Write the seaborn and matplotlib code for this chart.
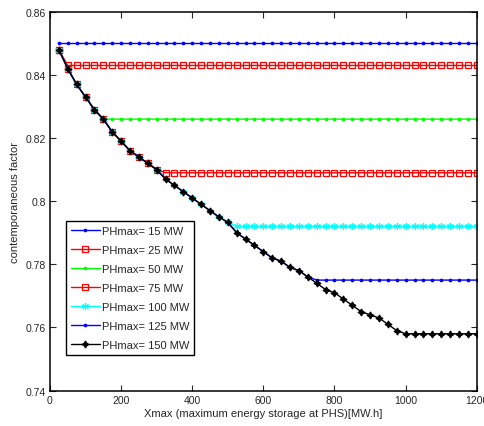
import numpy as np
import pandas as pd
import matplotlib
matplotlib.use("Agg")
import matplotlib.pyplot as plt
import seaborn as sns

# Storage capacity grid [MW.h]
xmax = list(range(25, 1201, 25))

# Declining path shared by all power limits until each one saturates
decline = [0.848, 0.842, 0.837, 0.833, 0.829, 0.826, 0.822, 0.819, 0.816, 0.814,
           0.812, 0.810, 0.807, 0.805, 0.803, 0.801, 0.799, 0.797, 0.795, 0.7933,
           0.790, 0.788, 0.786, 0.784, 0.782, 0.781, 0.779, 0.778, 0.776, 0.774,
           0.772, 0.771, 0.769, 0.767, 0.765, 0.764, 0.763, 0.761, 0.759]

# Power limits, saturation level and number of points taken from the path
labels = ["PHmax= 15 MW", "PHmax= 25 MW", "PHmax= 50 MW", "PHmax= 75 MW",
          "PHmax= 100 MW", "PHmax= 125 MW", "PHmax= 150 MW"]
plateau = [0.850, 0.843, 0.826, 0.809, 0.792, 0.775, 0.758]
knee = [0, 1, 5, 12, 20, 29, 39]

colors = ["#0000ff", "#ff0000", "#00ff00", "#ff0000", "#00ffff", "#0000ff", "#000000"]
markers = [".", "s", ".", "s", (6, 2, 0), ".", (4, 1, 0)]
msizes = [3.5, 4.3, 3.5, 4.3, 5, 3.5, 5]
mfaces = ["#0000ff", "none", "#00ff00", "none", "#00ffff", "#0000ff", "#000000"]

sns.set_style("white")
plt.rcParams["font.family"] = ["Liberation Sans", "DejaVu Sans"]

fig = plt.figure(figsize=(4.85, 4.27), dpi=100)
ax = fig.add_axes([0.103, 0.083, 0.880, 0.887])

for lab, top, k, c, m, ms, mf in zip(labels, plateau, knee, colors, markers, msizes, mfaces):
    y = decline[:k] + [top] * (len(xmax) - k)
    df = pd.DataFrame({"x": xmax, "y": y})
    sns.lineplot(data=df, x="x", y="y", ax=ax, color=c, marker=m, markersize=ms,
                 markerfacecolor=mf, markeredgecolor=c, markeredgewidth=0.9,
                 linewidth=1.0, label=lab)

ax.set_xlim(0, 1200)
ax.set_ylim(0.74, 0.86)
ax.set_xticks([0, 200, 400, 600, 800, 1000, 1200])
ax.set_yticks([0.74, 0.76, 0.78, 0.80, 0.82, 0.84, 0.86])
ax.set_yticklabels(["0.74", "0.76", "0.78", "0.8", "0.82", "0.84", "0.86"])
ax.tick_params(direction="in", length=4, width=0.8, labelsize=7.5,
               top=True, right=True, bottom=True, left=True, pad=3)
for s in ax.spines.values():
    s.set_color("black")
    s.set_linewidth(1.1)

ax.set_xlabel("Xmax (maximum energy storage at PHS)[MW.h]", fontsize=8, labelpad=2)
ax.set_ylabel("contemporaneous factor", fontsize=8, labelpad=4)

leg = ax.legend(loc="lower left", bbox_to_anchor=(0.037, 0.095), fontsize=8,
                frameon=True, fancybox=False, edgecolor="black", framealpha=1,
                borderpad=0.45, labelspacing=0.8, handlelength=2.6,
                handletextpad=0.2, borderaxespad=0)
leg.get_frame().set_linewidth(1.0)

fig.savefig("out.png", dpi=100)
